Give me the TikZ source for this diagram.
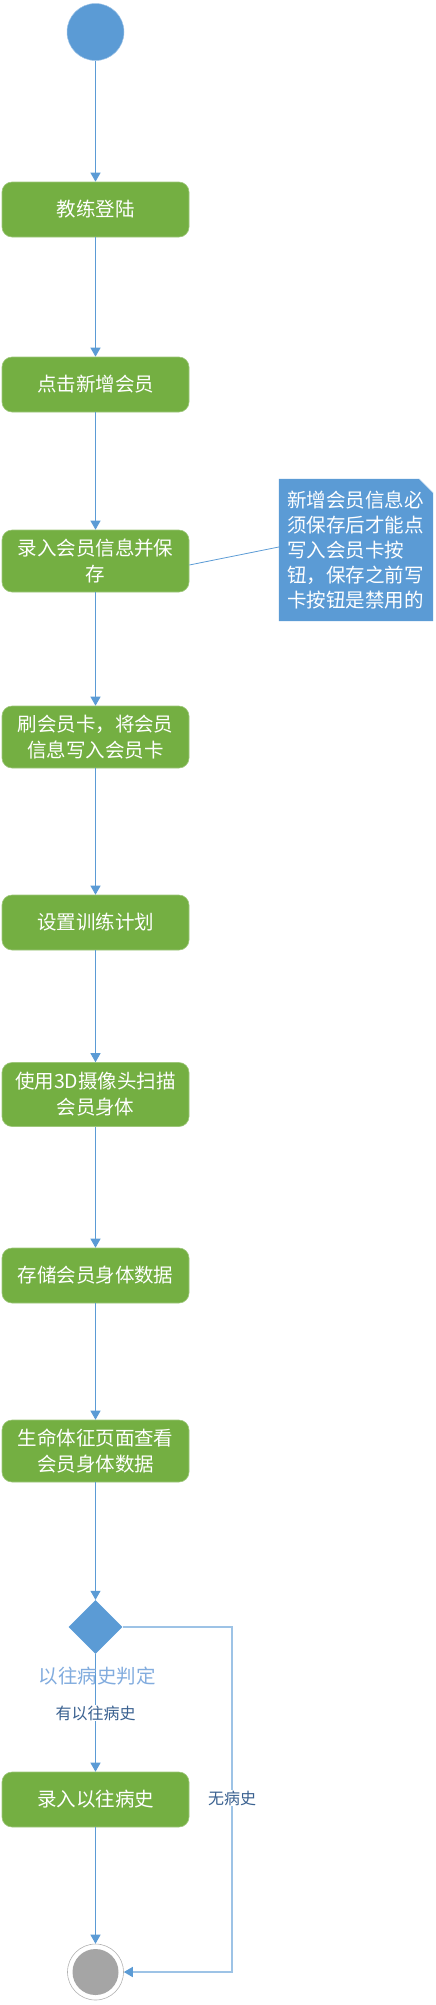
\documentclass[tikz,border=0pt]{standalone}
\usepackage{fontspec}
\newfontfamily\cjk{Noto Sans CJK SC}
\usetikzlibrary{arrows.meta,shapes.geometric}
\definecolor{actgreen}{RGB}{116,175,66}
\definecolor{flowblue}{RGB}{91,155,213}
\definecolor{paleblue}{RGB}{157,195,230}
\definecolor{labelblue}{RGB}{58,97,144}
\definecolor{judgeblue}{RGB}{130,172,222}
\definecolor{endgray}{RGB}{165,165,165}
\tikzset{
  act/.style={rectangle, rounded corners=10pt, fill=actgreen, draw=actgreen!70!white, line width=0.6pt,
    minimum width=187pt, text=white, font=\cjk\fontsize{19.5}{26}\selectfont, align=center, inner sep=0pt},
  flow/.style={draw=flowblue, line width=1pt, -{Triangle[width=10pt,length=9pt,fill=flowblue]}},
  sideflow/.style={draw=paleblue, line width=1.6pt, -{Triangle[width=10pt,length=9pt,fill=flowblue,color=flowblue]}},
  guard/.style={font=\cjk\fontsize{16}{20}\selectfont, text=labelblue, fill=white, inner sep=1pt},
}
\begin{document}
\begin{tikzpicture}[x=1pt,y=-1pt]
\useasboundingbox (0,0) rectangle (436,2005);
% start
\node[circle, fill=flowblue, draw=flowblue!60!white, line width=0.5pt, minimum size=57pt, inner sep=0pt] (start) at (95.5,32) {};
% activities
\node[act, minimum height=55pt] (b1) at (95.5,209.5) {教练登陆};
\node[act, minimum height=55pt] (b2) at (95.5,384.5) {点击新增会员};
\node[act, minimum height=62pt] (b3) at (95.5,561) {录入会员信息并保\\存};
\node[act, minimum height=62pt] (b4) at (95.5,737) {刷会员卡，将会员\\信息写入会员卡};
\node[act, minimum height=55pt] (b5) at (95.5,922.5) {设置训练计划};
\node[act, minimum height=64pt] (b6) at (95.5,1094.5) {使用3D摄像头扫描\\会员身体};
\node[act, minimum height=55pt] (b7) at (95.5,1275.5) {存储会员身体数据};
\node[act, minimum height=62pt] (b8) at (95.5,1451) {生命体征页面查看\\会员身体数据};
\node[diamond, fill=flowblue, minimum width=54pt, minimum height=54pt, inner sep=0pt] (d) at (95.5,1627) {};
\node[act, minimum height=55pt] (b9) at (95.5,1799.5) {录入以往病史};
% end
\node[circle, draw=gray!60, fill=white, line width=0.6pt, minimum size=56pt, inner sep=0pt] (endo) at (95.5,1972) {};
\node[circle, fill=endgray, minimum size=46pt, inner sep=0pt] (endi) at (95.5,1972) {};
% note
\node[rectangle, minimum width=154pt, minimum height=142pt, inner sep=0pt] (note) at (356,550) {};
\fill[flowblue] (note.north west) -- ([xshift=-14pt]note.north east) -- ([yshift=-14pt]note.north east) -- (note.south east) -- (note.south west) -- cycle;
\draw[white!80!flowblue, line width=0.5pt] ([xshift=-14pt]note.north east) -- ([yshift=-14pt]note.north east);
\node[anchor=west, text=white, font=\cjk\fontsize{19.5}{25}\selectfont, align=left, inner sep=0pt] (notetext) at ([xshift=8pt]note.west) {新增会员信息必\\须保存后才能点\\写入会员卡按\\钮，保存之前写\\卡按钮是禁用的};
\draw[flowblue, line width=0.8pt] ([yshift=-4pt]b3.east) -- ([yshift=3pt]note.west);
% flows
\draw[flow] (start) -- (b1);
\draw[flow] (b1) -- (b2);
\draw[flow] (b2) -- (b3);
\draw[flow] (b3) -- (b4);
\draw[flow] (b4) -- (b5);
\draw[flow] (b5) -- (b6);
\draw[flow] (b6) -- (b7);
\draw[flow] (b7) -- (b8);
\draw[flow] (b8) -- (d);
\draw[flow] (d) -- (b9);
\draw[flow] (b9) -- (endo);
\coordinate (r1) at (232,1627);
\coordinate (r2) at (232,1972);
\draw[sideflow] (d.east) -- (r1) -- (r2) -- (endo.east);
% labels
\node[font=\cjk\fontsize{19.5}{24}\selectfont, text=judgeblue, inner sep=0pt] (dlabel) at (97,1676) {以往病史判定};
\node[guard] (g1) at (95.5,1713) {有以往病史};
\node[guard] (g2) at (232,1798) {无病史};
\end{tikzpicture}
\end{document}
